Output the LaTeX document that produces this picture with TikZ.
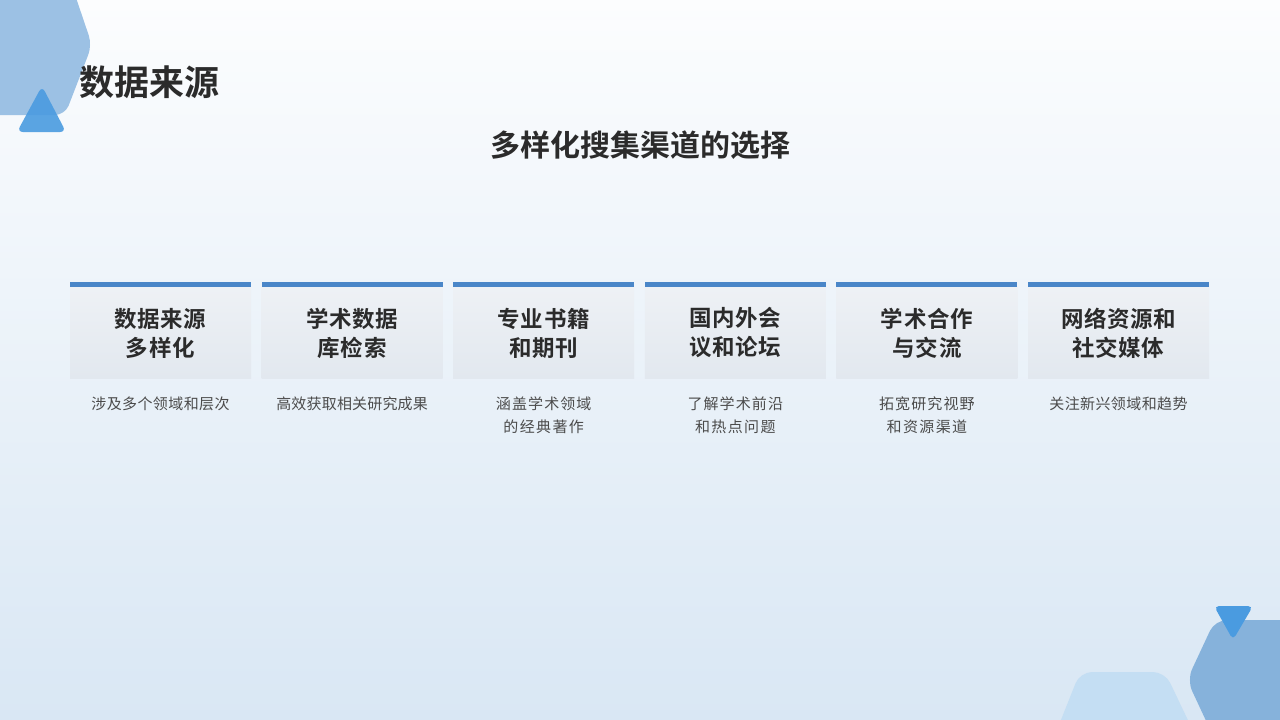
\documentclass[tikz,border=0pt]{standalone}
\usepackage{fontspec}
\XeTeXlinebreaklocale "zh"
\XeTeXlinebreakskip=0pt plus 1pt
\newfontfamily\cjk{Noto Sans CJK SC}
\newfontfamily\cjkb{Noto Sans CJK SC Bold}
\definecolor{bgtop}{HTML}{FCFDFE}
\definecolor{bgbot}{HTML}{D9E7F4}
\definecolor{barblue}{HTML}{4A86C8}
\definecolor{hexa}{HTML}{9CC1E4}
\definecolor{hexb}{HTML}{86B2DB}
\definecolor{tri}{HTML}{4A9BE0}
\definecolor{trap}{HTML}{C4DEF3}
\definecolor{txt}{HTML}{2B2B2B}
\definecolor{boxt}{HTML}{EEF1F5}
\definecolor{boxb}{HTML}{E2E8EF}
\begin{document}
\begin{tikzpicture}[x=1pt,y=-1pt,
  titlebox/.style={inner sep=0pt,align=center,text width=150pt,font=\cjkb\fontsize{22.5}{29}\selectfont,text=txt},
  desc/.style={text width=162pt,align=center,font=\cjk\fontsize{15}{23}\selectfont,text=txt!85,anchor=north}]
\shade[top color=bgtop,bottom color=bgbot] (0,0) rectangle (1280,720);
\useasboundingbox (0,0) rectangle (1280,720);
% decorations
\fill[hexa,rounded corners=10pt] (-20,-20) -- (70,-20) -- (92,45) -- (65,115) -- (-20,115) -- cycle;
\fill[tri,opacity=0.9,rounded corners=6pt] (42,86) -- (66,132) -- (17,132) -- cycle;
\fill[trap,rounded corners=12pt] (1055,735) -- (1080,672) -- (1165,672) -- (1195,735) -- cycle;
\fill[hexb,rounded corners=12pt] (1215,620) -- (1300,620) -- (1300,740) -- (1215,740) -- (1187,680) -- cycle;
\fill[tri,rounded corners=5pt] (1214,606) -- (1253,606) -- (1233,640) -- cycle;
% titles
\node[font=\cjkb\fontsize{35}{35}\selectfont,text=txt,anchor=west,inner sep=0pt] (h) at (79,82) {数据来源};
\node[font=\cjkb\fontsize{30}{30}\selectfont,text=txt] (s) at (640,145) {多样化搜集渠道的选择};
% columns
\foreach \i/\t/\d in {0/{数据来源多样化}/{涉及多个领域和层次},
  1/{学术数据库检索}/{高效获取相关研究成果},
  2/{专业书籍和期刊}/{涵盖学术领域的经典著作},
  3/{国内外会议和论坛}/{了解学术前沿和热点问题},
  4/{学术合作与交流}/{拓宽研究视野和资源渠道},
  5/{网络资源和社交媒体}/{关注新兴领域和趋势}}{
  \pgfmathsetmacro\cx{160.5+191.6*\i}
  \shade[top color=boxt,bottom color=boxb] (\cx-90.5,286) rectangle (\cx+90.5,378);
  \fill[barblue] (\cx-90.5,282) rectangle (\cx+90.5,287);
  \node[titlebox] (t\i) at (\cx,333) {\t};
  \node[desc] (d\i) at (\cx,393) {\d};
}
\end{tikzpicture}
\end{document}
